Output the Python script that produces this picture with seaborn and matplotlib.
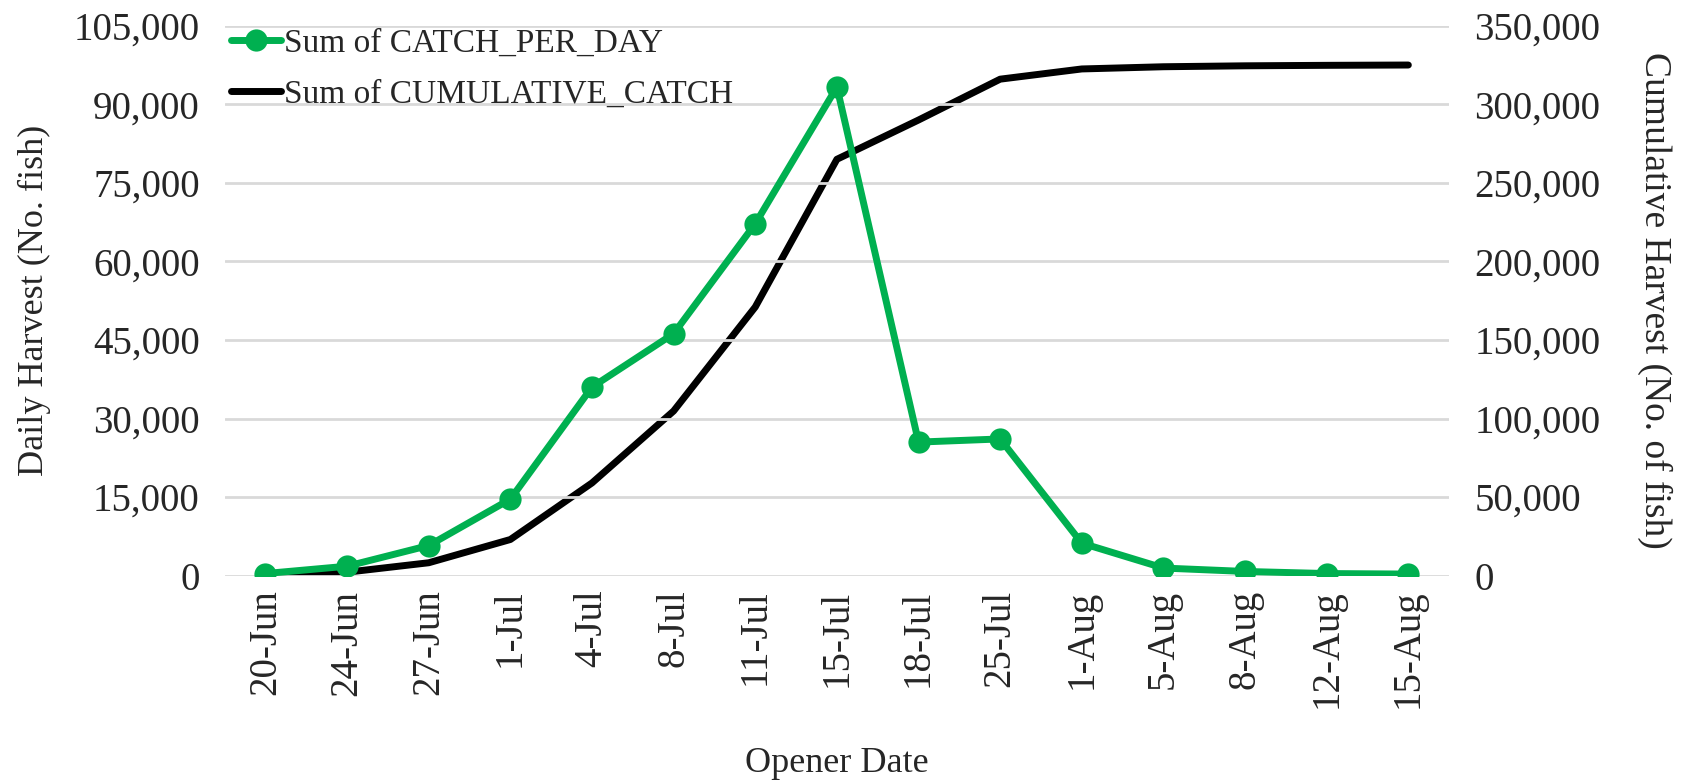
import numpy as np
import seaborn as sns
import pandas as pd
import matplotlib.pyplot as plt
from matplotlib.ticker import FuncFormatter

dates = ['20-Jun', '24-Jun', '27-Jun', '1-Jul', '4-Jul', '8-Jul', '11-Jul', '15-Jul',
         '18-Jul', '25-Jul', '1-Aug', '5-Aug', '8-Aug', '12-Aug', '15-Aug']
catch_per_day = [400, 1800, 5750, 14600, 36000, 46200, 67200, 93300,
                 25500, 26100, 6200, 1450, 800, 400, 300]
cumulative_catch = [400, 2200, 8200, 23000, 59000, 104800, 171000, 265000,
                    290000, 316000, 322500, 323900, 324500, 324800, 325000]

df = pd.DataFrame({'date': dates, 'daily': catch_per_day, 'cum': cumulative_catch})

sns.set_style("white")
plt.rcParams['font.family'] = ['Liberation Serif', 'DejaVu Serif']

green = '#00B050'
fig = plt.figure(figsize=(16.89, 7.8), dpi=100)
ax = fig.add_axes([0.133, 0.262, 0.725, 0.705])
ax2 = ax.twinx()

x = np.arange(len(dates))
sns.lineplot(x=x, y=df['daily'], ax=ax, color=green, lw=5, marker='o',
             markersize=16, markeredgewidth=0, label='Sum of CATCH_PER_DAY', zorder=3)
sns.lineplot(x=x, y=df['cum'], ax=ax2, color='black', lw=5,
             label='Sum of CUMULATIVE_CATCH', zorder=2)

ax.set_ylim(0, 105000)
ax.set_yticks(np.arange(0, 105001, 15000))
ax2.set_ylim(0, 350000)
ax2.set_yticks(np.arange(0, 350001, 50000))
fmt = FuncFormatter(lambda v, p: f'{int(v):,}')
ax.yaxis.set_major_formatter(fmt)
ax2.yaxis.set_major_formatter(fmt)

ax.set_xlim(-0.5, len(dates) - 0.5)
ax.set_xticks(x)
ax.set_xticklabels(dates, rotation=90, fontsize=28)
ax.tick_params(axis='y', labelsize=28, length=0, pad=18)
ax.tick_params(axis='x', length=0, pad=10)
ax2.tick_params(axis='y', labelsize=28, length=0, pad=18)

ax.grid(axis='y', color='#D9D9D9', lw=2)
ax.set_axisbelow(True)
for a in (ax, ax2):
    for s in a.spines.values():
        s.set_visible(False)

ax.set_zorder(ax2.get_zorder() + 1)
ax.patch.set_visible(False)

ax.set_xlabel('Opener Date', fontsize=26, labelpad=28)
ax.set_ylabel('Daily Harvest (No. fish)', fontsize=26, labelpad=16)
ax2.set_ylabel('Cumulative Harvest (No. of fish)', fontsize=27, rotation=270, labelpad=52)

h1, l1 = ax.get_legend_handles_labels()
h2, l2 = ax2.get_legend_handles_labels()
ax2.get_legend().remove()
ax.legend(h1 + h2, l1 + l2, loc='upper left', bbox_to_anchor=(0.005, 0.995),
          frameon=False, fontsize=24, handlelength=1.5, handletextpad=0.1,
          labelspacing=0.62, borderaxespad=0, borderpad=0)

fig.savefig('out.png', dpi=100)
